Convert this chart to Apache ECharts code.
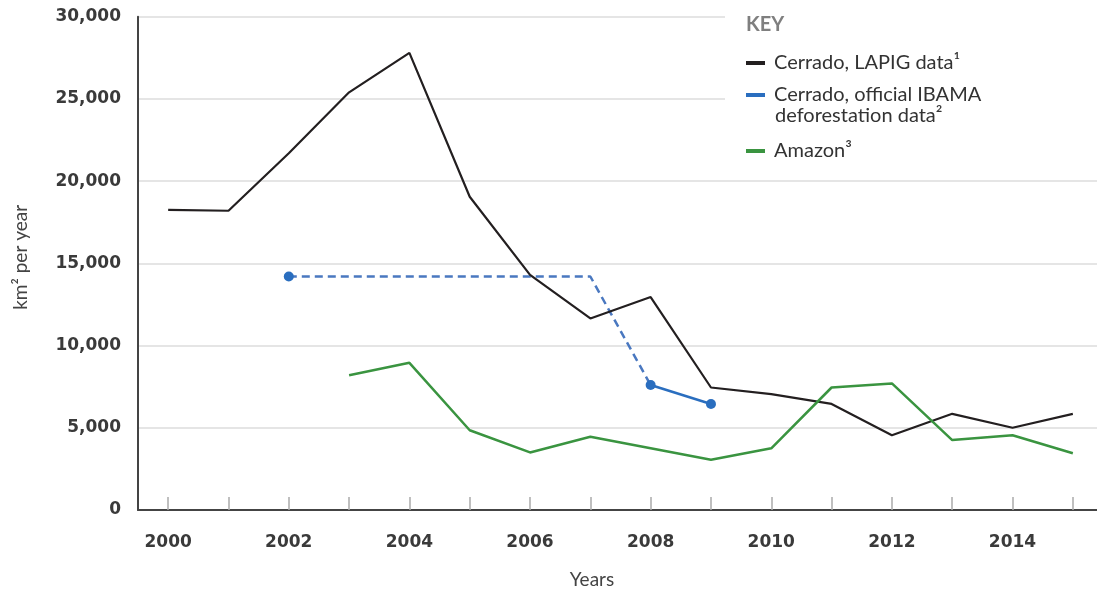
<!DOCTYPE html>
<html>
<head>
<meta charset="utf-8">
<script src="https://cdn.jsdelivr.net/npm/echarts@6/dist/echarts.min.js"></script>
<style>
html,body{margin:0;padding:0;background:#fff;}
#chart{width:1097px;height:593px;}
</style>
</head>
<body>
<div id="chart"></div>
<script>
var years = ['2000','2001','2002','2003','2004','2005','2006','2007','2008','2009','2010','2011','2012','2013','2014','2015'];
var yTicks = [0, 5000, 10000, 15000, 20000, 25000, 30000];
var lapig = [18250, 18200, 21700, 25400, 27800, 19050, 14300, 11650, 12950, 7450, 7050, 6450, 4550, 5850, 5000, 5850];
var ibamaEstimated = [null, null, 14200, null, null, null, null, 14200, 7600, null, null, null, null, null, null, null];
var ibamaOfficial = [null, null, null, null, null, null, null, null, 7600, 6450, null, null, null, null, null, null];
var amazon = [null, null, null, 8200, 8950, 4850, 3500, 4450, 3750, 3050, 3750, 7450, 7700, 4250, 4550, 3450];
var names = ['Cerrado, LAPIG data\u00b9', 'Cerrado, official IBAMA', 'Amazon\u00b3'];
var legendExtraLine = 'deforestation data\u00b2';

var chart = echarts.init(document.getElementById('chart'));
var black = '#231f20', blue = '#2a6ebf', blueDash = '#4a78c0', green = '#3a9440';

function legendAt(name, top, color) {
  return {
    data: [name], orient: 'vertical', left: 741, top: top,
    icon: 'rect', itemWidth: 19, itemHeight: 4, itemGap: 0,
    selectedMode: false,
    textStyle: {fontFamily: 'Lato', fontSize: 20, color: '#333', padding: [0, 0, 0, 4]},
    itemStyle: {color: color}
  };
}

var option = {
  animation: false,
  grid: {left: 138, right: -6, top: 16.7, bottom: 83, containLabel: false, outerBoundsMode: 'none'},
  title: {
    text: 'KEY', left: 741, top: 10,
    textStyle: {fontFamily: 'Lato', fontSize: 20, fontWeight: 'bold', color: '#7f7f7f'}
  },
  legend: [
    legendAt(names[0], 48, black),
    legendAt(names[1], 80, blue),
    legendAt(names[2], 136, green)
  ],
  graphic: [
    {type: 'rect', left: 725, top: 0, z: 3, shape: {width: 380, height: 172}, style: {fill: '#fff'}},
    {type: 'text', left: 775, top: 106, z: 10, style: {text: legendExtraLine, font: '20px Lato', fill: '#333'}}
  ],
  xAxis: {
    type: 'category', data: years, boundaryGap: true,
    name: 'Years', nameLocation: 'middle', nameGap: 60,
    nameTextStyle: {fontFamily: 'Lato', fontSize: 19, color: '#444', padding: [0, 57, 0, 0]},
    axisLine: {lineStyle: {color: '#444', width: 2}},
    axisTick: {show: true, inside: true, length: 13, alignWithLabel: true, interval: 0, lineStyle: {color: '#aaa', width: 1.5}},
    axisLabel: {interval: 1, margin: 24, fontFamily: 'DejaVu Sans', fontWeight: 'bold', fontSize: 17, color: '#3a3a3a'},
    splitLine: {show: false}
  },
  yAxis: {
    type: 'value', min: yTicks[0], max: yTicks[yTicks.length - 1], interval: yTicks[1] - yTicks[0],
    name: 'km\u00b2 per year', nameLocation: 'middle', nameGap: 108, nameRotate: 90,
    nameTextStyle: {fontFamily: 'Lato', fontSize: 19, color: '#444', padding: [0, 0, 0, 12]},
    axisLine: {show: true, lineStyle: {color: '#444', width: 2}},
    axisTick: {show: false},
    axisLabel: {margin: 17, fontFamily: 'DejaVu Sans', fontWeight: 'bold', fontSize: 17, color: '#3a3a3a',
      formatter: function (v) { return v.toLocaleString('en-US'); }},
    splitLine: {lineStyle: {color: '#dcdcdc', width: 1.5}}
  },
  series: [
    {name: names[0], type: 'line', data: lapig, symbol: 'none', z: 5,
      lineStyle: {color: black, width: 2.2}, itemStyle: {color: black}},
    {name: 'IBAMA estimated', type: 'line', connectNulls: true, z: 4,
      data: ibamaEstimated.map(function (v, i) { return (i === 2 && v != null) ? {value: v, symbol: 'circle', symbolSize: 10} : v; }),
      symbol: 'none', showSymbol: true,
      lineStyle: {color: blueDash, width: 2.5, type: [8, 5]}, itemStyle: {color: blue}},
    {name: names[1], type: 'line', data: ibamaOfficial, symbol: 'circle', symbolSize: 10, showSymbol: true, z: 6,
      lineStyle: {color: blue, width: 2.5}, itemStyle: {color: blue}},
    {name: names[2], type: 'line', data: amazon, symbol: 'none', z: 5,
      lineStyle: {color: green, width: 2.5}, itemStyle: {color: green}}
  ]
};
chart.setOption(option);
</script>
</body>
</html>
